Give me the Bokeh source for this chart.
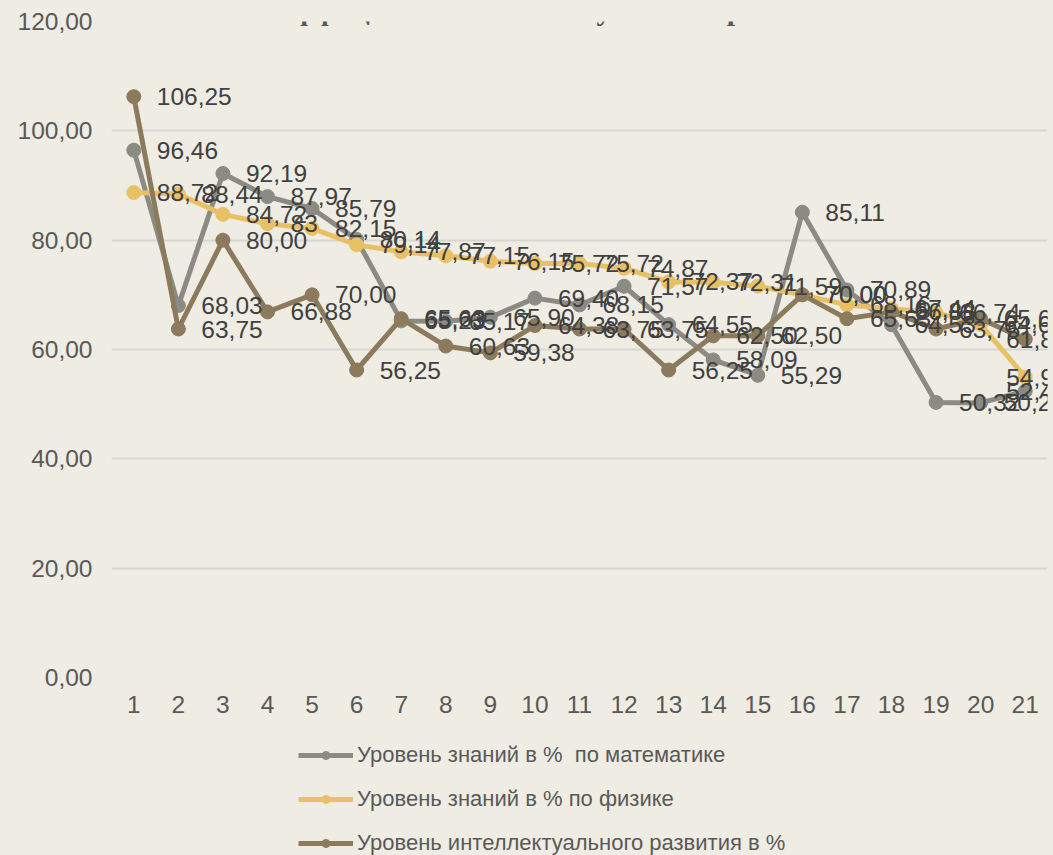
from bokeh.plotting import figure
from bokeh.layouts import column
from bokeh.models import (FactorRange, Range1d, Legend, LegendItem, Label,
                          CustomJSTickFormatter, FixedTicker, ColumnDataSource)
from bokeh.embed import file_html
from bokeh.resources import INLINE
from bokeh.core.properties import value

# ---------------- data ----------------
categories = [str(i) for i in range(1, 22)]
math_vals = [96.46, 68.03, 92.19, 87.97, 85.79, 80.14, 65.23, 65.17, 65.90, 69.40, 68.15,
             71.57, 64.55, 58.09, 55.29, 85.11, 70.89, 64.53, 50.32, 50.23, 52.40]
phys_vals = [88.72, 88.44, 84.72, 83, 82.15, 79.14, 77.87, 77.15, 76.15, 75.72, 75.72,
             74.87, 72.37, 72.31, 71.59, 70.00, 68.16, 67.44, 66.74, 64.60, 54.93]
intel_vals = [106.25, 63.75, 80.00, 66.88, 70.00, 56.25, 65.63, 60.63, 59.38, 64.38, 63.75,
              63.75, 56.25, 62.50, 62.50, 70.00, 65.63, 66.88, 63.75, 65.63, 61.88]
series_names = ["Уровень знаний в %  по математике",
                "Уровень знаний в % по физике",
                "Уровень интеллектуального развития в %"]
y_ticks = [0, 20, 40, 60, 80, 100, 120]
title_text = "коэффициента интеллектуального развития"

colors = ["#8B8B83", "#E8C166", "#8B7A5C"]
FONT = "Liberation Sans"
TXT = "#404040"
BG = "#EEECE3"


def fmt(v):
    if isinstance(v, int):
        return str(v)
    return f"{v:.2f}".replace(".", ",")


W, H1, H2 = 1053, 730, 125
TOP, LEFT, BOTTOM = 21, 111, 53
p = figure(width=W, height=H1, x_range=FactorRange(*categories, range_padding=0),
           y_range=Range1d(0, 120), output_backend="svg", toolbar_location=None,
           min_border_left=LEFT, min_border_right=6, min_border_top=TOP,
           min_border_bottom=BOTTOM)
p.background_fill_color = BG
p.border_fill_color = BG
p.outline_line_color = None

p.xgrid.grid_line_color = None
p.ygrid.grid_line_color = "#D6D6D2"
p.ygrid.grid_line_width = 2
p.yaxis.ticker = FixedTicker(ticks=y_ticks)
p.yaxis.formatter = CustomJSTickFormatter(code="return tick.toFixed(2).replace('.', ',');")
for ax in (p.xaxis, p.yaxis):
    ax.axis_line_color = None
    ax.major_tick_line_color = None
    ax.minor_tick_line_color = None
    ax.major_label_text_font = FONT
    ax.major_label_text_font_size = "24.5px"
    ax.major_label_text_color = "#595959"
p.yaxis.major_label_standoff = 13
p.xaxis.major_label_standoff = 12

for vals, c in zip([math_vals, phys_vals, intel_vals], colors):
    src = ColumnDataSource(dict(x=categories, y=vals))
    p.line("x", "y", source=src, line_color=c, line_width=5)
    p.scatter("x", "y", source=src, size=14, fill_color=c, line_color=c)

# data labels
for vals in [math_vals, phys_vals, intel_vals]:
    offs = [23] * (len(vals) - 1) + [-19]
    src = ColumnDataSource(dict(x=categories, y=vals, t=[fmt(v) for v in vals], o=offs))
    p.text("x", "y", text="t", source=src, x_offset="o", text_baseline="middle",
           text_align="left", text_font=value(FONT), text_font_size="24.5px",
           text_color=TXT)

frame_h = H1 - TOP - BOTTOM
p.add_layout(Label(x=550 - LEFT, y=frame_h + TOP - 9, x_units="screen", y_units="screen",
                   text=title_text, text_align="center", text_baseline="alphabetic",
                   text_font="Liberation Serif", text_font_style="bold",
                   text_font_size="30px", text_color="#595959"))

# legend strip (its series are drawn out of view; only the legend shows)
lg = figure(width=W, height=H2, x_range=Range1d(0, 1), y_range=Range1d(1000, 1001),
            output_backend="svg", toolbar_location=None,
            min_border_left=LEFT, min_border_right=6, min_border_top=0, min_border_bottom=0)
lg.background_fill_color = BG
lg.border_fill_color = BG
lg.outline_line_color = None
lg.axis.visible = False
lg.grid.visible = False
items = []
for name, vals, c in zip(series_names, [math_vals, phys_vals, intel_vals], colors):
    s = ColumnDataSource(dict(x=list(range(len(vals))), y=vals))
    lr = lg.line("x", "y", source=s, line_color=c, line_width=5)
    sr = lg.scatter("x", "y", source=s, size=14, fill_color=c, line_color=c)
    items.append(LegendItem(label=name, renderers=[lr, sr]))
legend = Legend(items=items, orientation="vertical", location=(298 - LEFT, -1),
                glyph_width=55, glyph_height=20, label_height=20, spacing=18,
                padding=0, margin=0, label_standoff=4,
                label_text_font=FONT, label_text_font_size="22px",
                label_text_color="#595959",
                background_fill_alpha=0, border_line_alpha=0)
lg.add_layout(legend, "center")

layout = column(p, lg, spacing=0)
layout.styles = {"background-color": BG}
open("out.html", "w").write(file_html(layout, INLINE))
